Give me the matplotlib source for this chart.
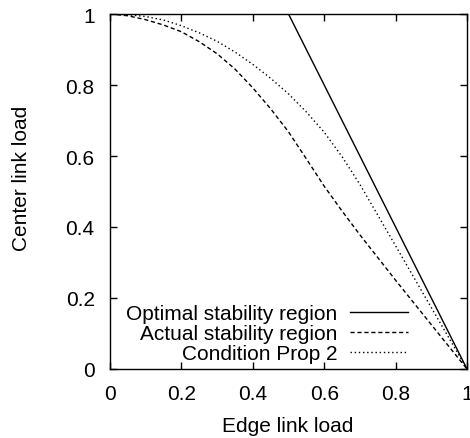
import numpy as np
import matplotlib
matplotlib.use("Agg")
import matplotlib.pyplot as plt

plt.rcParams['font.family'] = "Liberation Sans"
plt.rcParams['font.size'] = 15

# optimal stability region (piecewise linear)
opt_x = [0.0, 0.5, 1.0]
opt_y = [1.0, 1.0, 0.0]

# actual stability region
act_x = [0.0, 0.05, 0.1, 0.15, 0.2, 0.25, 0.3, 0.35, 0.4, 0.45, 0.5, 0.55, 0.6, 0.65, 0.7, 0.8, 0.9, 1.0]
act_y = [1.0, 0.995, 0.984, 0.969, 0.950, 0.922, 0.888, 0.845, 0.792, 0.733, 0.668, 0.592, 0.515, 0.445, 0.378, 0.25, 0.125, 0.0]

# condition of proposition 2
cond_x = [0.0, 0.05, 0.1, 0.15, 0.2, 0.25, 0.3, 0.35, 0.4, 0.45, 0.5, 0.55, 0.6, 0.65, 0.7, 0.8, 0.9, 1.0]
cond_y = [1.0, 0.998, 0.993, 0.983, 0.967, 0.947, 0.923, 0.893, 0.858, 0.819, 0.775, 0.724, 0.667, 0.598, 0.52, 0.347, 0.173, 0.0]

ticks = [0, 0.2, 0.4, 0.6, 0.8, 1]
tick_labels = ["0", "0.2", "0.4", "0.6", "0.8", "1"]

fig = plt.figure(figsize=(4.7, 4.39), dpi=100)
ax = fig.add_axes([110/470, 69/439, 357/470, 355/439])

ax.plot(opt_x, opt_y, color='black', lw=1.0, label="Optimal stability region")
ax.plot(act_x, act_y, color='black', lw=1.0, linestyle=(0, (3, 2)), label="Actual stability region")
ax.plot(cond_x, cond_y, color='black', lw=1.0, linestyle=(0, (1, 2)), label="Condition Prop 2")

ax.set_xlim(0, 1)
ax.set_ylim(0, 1)
ax.set_xticks(ticks)
ax.set_xticklabels(tick_labels)
ax.set_yticks(ticks)
ax.set_yticklabels(tick_labels)
ax.tick_params(direction='in', length=5, width=1, top=True, right=True, pad=11)
for s in ax.spines.values():
    s.set_linewidth(1)

fig.text(288/470, 1 - 427/439, "Edge link load", ha='center', va='center')
fig.text(22/470, 1 - 178/439, "Center link load", ha='center', va='center', rotation=90)

leg = ax.legend(loc='lower right', bbox_to_anchor=(0.835, 0.017), frameon=False,
                markerfirst=False, handlelength=2.8, handletextpad=0.6,
                labelspacing=0.05, borderpad=0, borderaxespad=0)
for t in leg.get_texts():
    t.set_ha('right')

fig.savefig("out.png", dpi=100)
